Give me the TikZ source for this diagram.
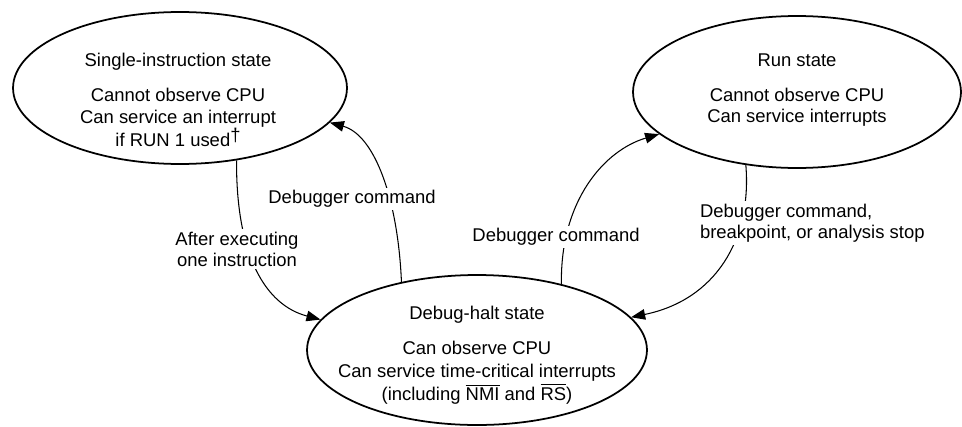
\documentclass[tikz,border=0pt]{standalone}
\usepackage{fontspec}
\setmainfont{Liberation Sans}
\usetikzlibrary{shapes.geometric,arrows.meta}
\begin{document}
\begin{tikzpicture}[x=0.02cm, y=-0.02cm,
  font=\fontsize{10.5}{12}\selectfont,
  state/.style={draw, ellipse, line width=1pt, inner sep=0pt},
  txt/.style={align=center},
  lab/.style={fill=white, inner sep=1.5pt, align=center},
  arr/.style={-{Triangle[length=8pt,width=6pt]}, line width=0.6pt}]
\useasboundingbox (0,0) rectangle (962,426);
% the three states
\node[state, minimum width=6.68cm, minimum height=3.04cm] (single) at (180,88) {};
\node[state, minimum width=6.56cm, minimum height=3.04cm] (run) at (797,92) {};
\node[state, minimum width=6.8cm, minimum height=3cm] (halt) at (477,350) {};
\node[txt] (singletxt) at (178,100) {Single-instruction state\\[8pt]Cannot observe CPU\\Can service an interrupt\\if RUN 1 used\raisebox{.45ex}{†}};
\node[txt] (runtxt) at (797,90) {Run state\\[8pt]Cannot observe CPU\\Can service interrupts};
\node[txt, font=\fontsize{10.5}{13}\selectfont] (halttxt) at (477,355) {Debug-halt state\\[7pt]Can observe CPU\\Can service time-critical interrupts\\(including $\overline{\mbox{NMI}}$ and $\overline{\mbox{RS}}$)};
% transitions
\draw[arr] (single.-52) .. controls (236,255) and (265,305) .. (halt.169);
\draw[arr] (halt.138) .. controls (398,200) and (375,135) .. (single.-13);
\draw[arr] (halt.38) .. controls (560,200) and (605,150) .. (run.197);
\draw[arr] (run.-125) .. controls (752,240) and (715,300) .. (halt.12);
\node[lab] (afterlab) at (237,249) {After executing\\one instruction};
\node[lab] (cmdleft) at (352,199) {Debugger command};
\node[lab] (cmdright) at (556,237) {Debugger command};
\node[lab, anchor=west, align=left] (stoplab) at (697,223) {Debugger command,\\breakpoint, or analysis stop};
\end{tikzpicture}
\end{document}
